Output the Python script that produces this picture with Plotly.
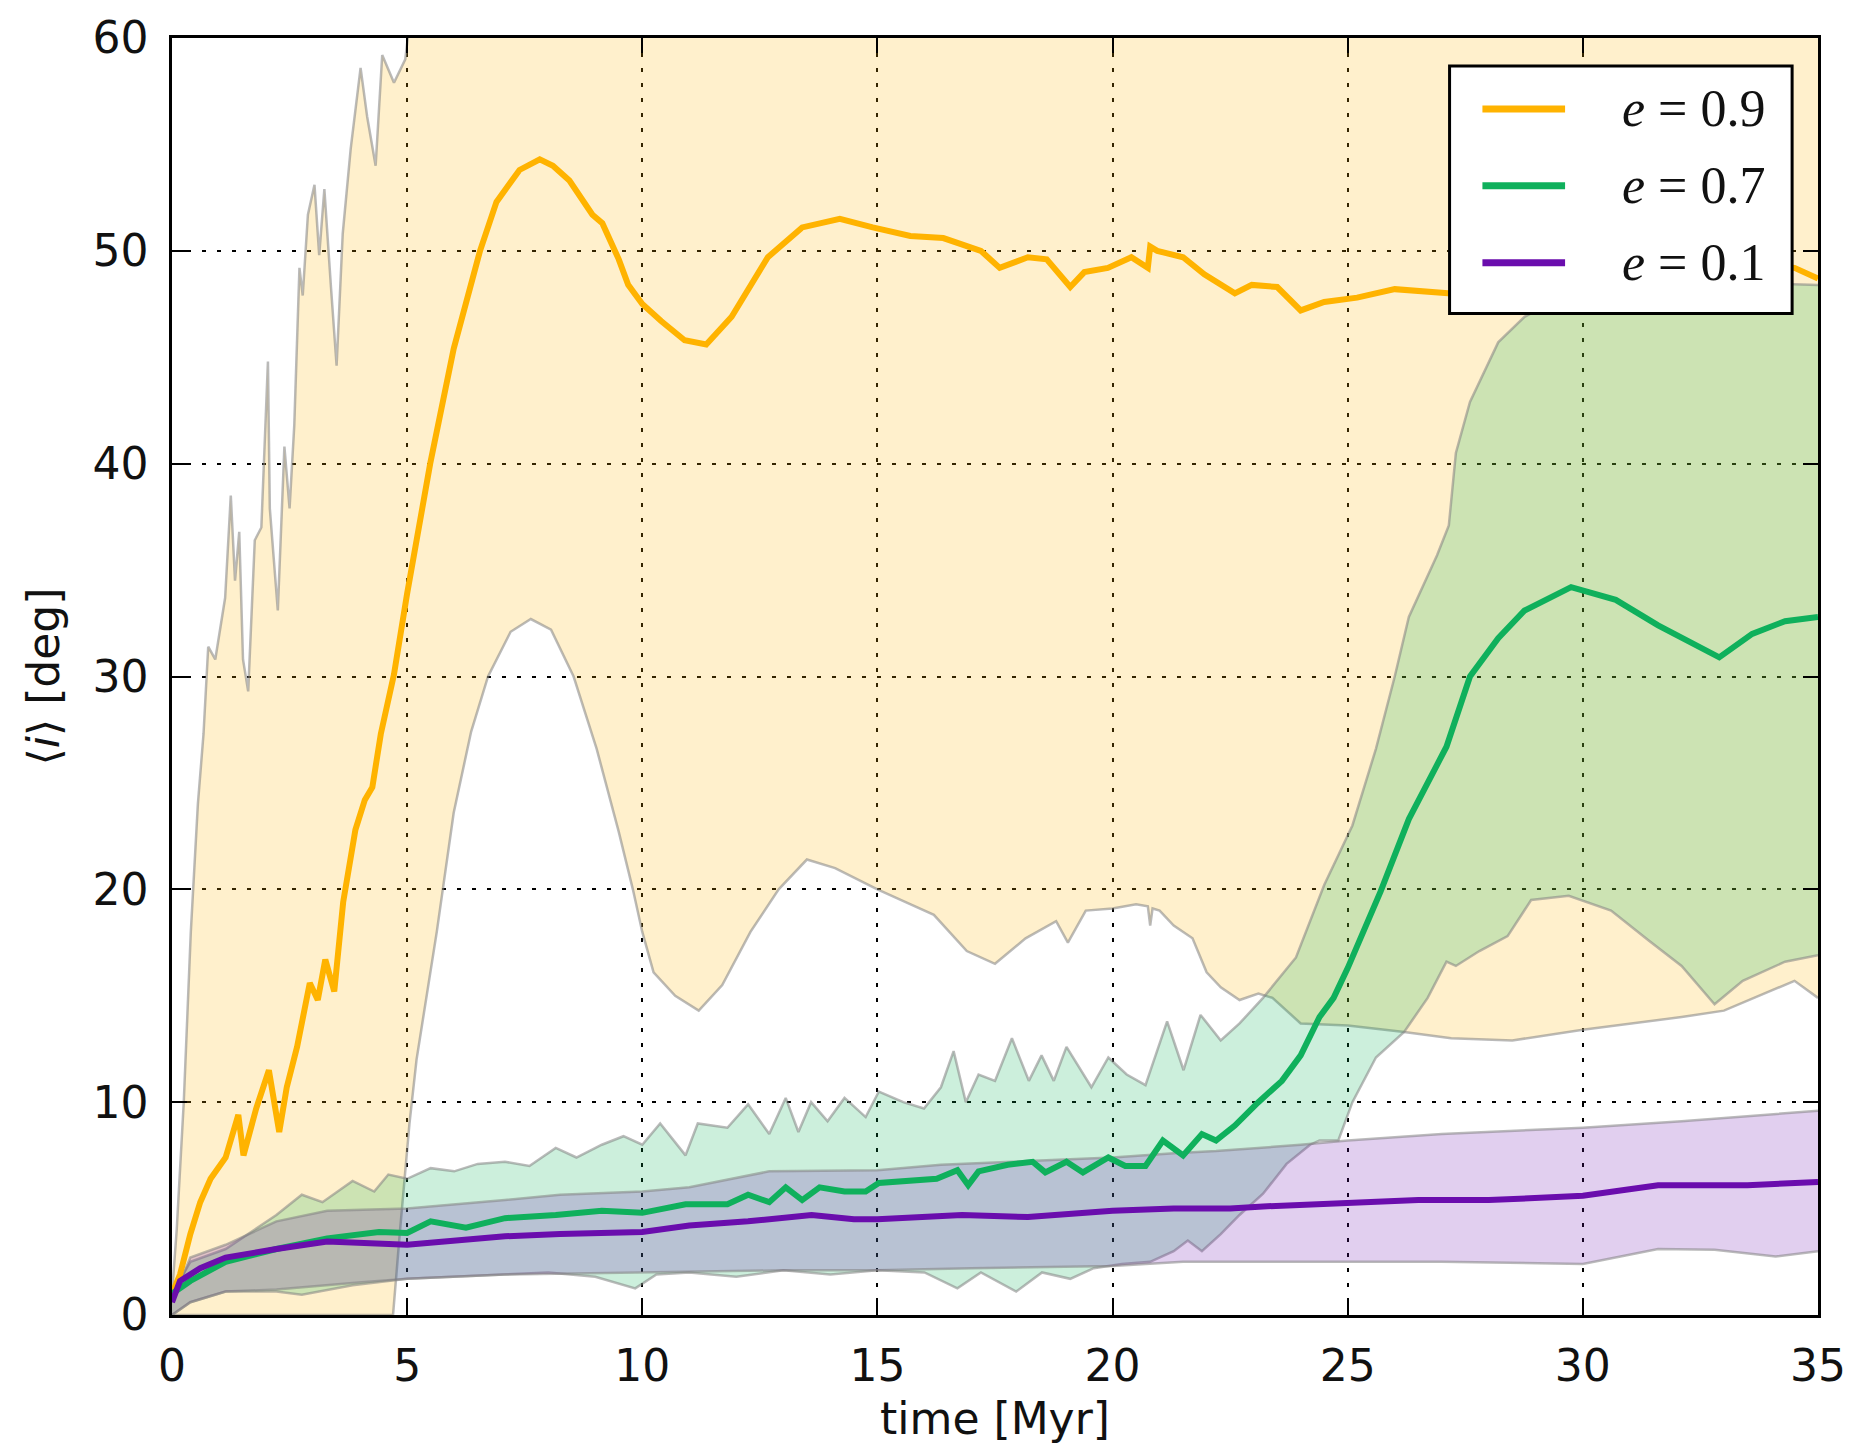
import plotly.graph_objects as go

# ---------------- data ----------------
# e = 0.9 mean inclination
t_o = [0, 0.17, 0.39, 0.6, 0.82, 1.14, 1.41, 1.52, 1.79, 2.06, 2.28, 2.44, 2.66, 2.93, 3.1, 3.26,
       3.45, 3.5, 3.64, 3.9, 4.1, 4.26, 4.44, 4.72, 5.0, 5.49, 5.99, 6.55, 6.9, 7.39, 7.82, 8.1,
       8.45, 8.94, 9.15, 9.5, 9.7, 10.0, 10.4, 10.9, 11.36, 11.9, 12.67, 13.4, 14.2, 14.9, 15.7,
       16.4, 17.2, 17.6, 18.2, 18.6, 19.1, 19.4, 19.9, 20.4, 20.75, 20.8, 20.95, 21.5, 21.95, 22.6,
       22.96, 23.5, 24.0, 24.5, 25.2, 26.0, 26.7, 27.2, 28.0, 29.0, 30.0, 31.0, 32.0, 33.0, 34.0,
       34.5, 35.0]
m_o = [1.0, 1.9, 3.8, 5.3, 6.4, 7.4, 9.4, 7.5, 9.7, 11.5, 8.6, 10.7, 12.6, 15.6, 14.8, 16.7,
       15.2, 16.5, 19.4, 22.8, 24.2, 24.8, 27.3, 30.1, 33.9, 40.0, 45.4, 50.0, 52.3, 53.8, 54.3, 54.0,
       53.3, 51.7, 51.3, 49.6, 48.4, 47.5, 46.7, 45.8, 45.6, 46.9, 49.7, 51.1, 51.5, 51.1, 50.7,
       50.6, 50.0, 49.2, 49.7, 49.6, 48.3, 49.0, 49.2, 49.7, 49.2, 50.2, 50.0, 49.7, 48.9, 48.0,
       48.4, 48.3, 47.2, 47.6, 47.8, 48.2, 48.1, 48.0, 48.2, 48.4, 48.6, 48.8, 49.0, 49.2, 49.3,
       49.2, 48.7]

# e = 0.9 band upper edge
t_ou = [0, 0.1, 0.25, 0.4, 0.55, 0.67, 0.77, 0.92, 1.13, 1.25, 1.34, 1.43, 1.51, 1.62, 1.76, 1.9,
        2.04, 2.08, 2.25, 2.39, 2.5, 2.6, 2.71, 2.78, 2.89, 3.03, 3.13, 3.24, 3.38, 3.5, 3.63, 3.8,
        4.01, 4.15, 4.33, 4.47, 4.72, 4.96, 5.04, 5.2, 6.0, 35.0]
u_o = [1.0, 4.0, 10.0, 18.0, 24.0, 27.3, 31.4, 30.8, 33.7, 38.5, 34.5, 36.8, 30.8, 29.3, 36.4, 37.0,
       44.8, 37.9, 33.1, 40.8, 37.9, 41.8, 49.2, 47.9, 51.7, 53.1, 49.8, 52.9, 48.3, 44.6, 50.8, 54.8,
       58.6, 56.3, 54.0, 59.2, 57.9, 59.0, 60.5, 64.0, 66.0, 66.0]

# e = 0.9 band lower edge
t_ol = [0, 4.7, 4.85, 5.05, 5.2, 5.63, 5.99, 6.36, 6.72, 7.2, 7.63, 8.06, 8.54, 9.03, 9.5, 9.8,
        10.0, 10.24, 10.7, 11.2, 11.7, 12.3, 12.9, 13.5, 14.1, 15.0, 15.6, 16.2, 16.9, 17.5, 18.15,
        18.8, 19.05, 19.43, 20.0, 20.5, 20.75, 20.8, 20.85, 21.0, 21.3, 21.7, 22.0, 22.3, 22.7,
        23.1, 23.4, 24.0, 25.0, 26.2, 27.2, 28.5, 30.0, 32.1, 33.0, 34.5, 35.0]
l_o = [0, 0, 4.0, 9.0, 12.0, 18.0, 23.6, 27.4, 30.0, 32.1, 32.7, 32.2, 30.0, 26.6, 22.7, 20.0,
       18.0, 16.1, 15.0, 14.3, 15.5, 18.0, 20.0, 21.4, 21.0, 20.0, 19.4, 18.8, 17.1, 16.5, 17.7,
       18.5, 17.5, 19.0, 19.1, 19.3, 19.2, 18.3, 19.1, 19.0, 18.3, 17.7, 16.1, 15.4, 14.8,
       15.1, 14.9, 13.7, 13.6, 13.3, 13.0, 12.9, 13.4, 14.0, 14.3, 15.7, 14.9]

# e = 0.7 mean inclination
t_g = [0, 0.39, 1.14, 2.22, 3.3, 4.4, 5.0, 5.5, 6.25, 7.08, 8.16, 9.14, 10.0, 10.92, 11.81, 12.25,
       12.7, 13.05, 13.4, 13.77, 14.3, 14.75, 15.03, 15.8, 16.26, 16.7, 16.93, 17.15, 17.77, 18.3,
       18.57, 19.02, 19.37, 19.91, 20.27, 20.7, 21.07, 21.5, 21.9, 22.2, 22.6, 23.1, 23.6, 24.0,
       24.4, 24.7, 25.0, 25.7, 26.3, 27.1, 27.6, 28.2, 28.76, 29.75, 30.7, 31.6, 32.9, 33.6, 34.3, 35.0]
m_g = [1.0, 1.6, 2.5, 3.1, 3.6, 3.9, 3.85, 4.4, 4.1, 4.55, 4.7, 4.9, 4.8, 5.2, 5.2, 5.65,
       5.3, 6.0, 5.4, 6.0, 5.8, 5.8, 6.2, 6.3, 6.4, 6.8, 6.1, 6.75, 7.06, 7.2,
       6.7, 7.2, 6.7, 7.4, 7.0, 7.0, 8.2, 7.5, 8.5, 8.2, 8.9, 10.0, 11.0, 12.2,
       14.0, 14.9, 16.3, 19.9, 23.3, 26.7, 30.0, 31.8, 33.1, 34.2, 33.6, 32.4, 30.9, 32.0, 32.6, 32.8]

# e = 0.7 band upper edge
t_gu = [0, 0.39, 1.14, 2.22, 2.76, 3.2, 3.84, 4.3, 4.6, 5.0, 5.5, 6.0, 6.5, 7.08, 7.6, 8.16, 8.6,
        9.14, 9.6, 10.0, 10.38, 10.92, 11.18, 11.81, 12.25, 12.7, 13.05, 13.32, 13.59, 13.94, 14.3,
        14.75, 15.03, 15.55, 15.99, 16.35, 16.62, 16.88, 17.15, 17.5, 17.86, 18.22, 18.49, 18.75,
        19.02, 19.55, 19.91, 20.3, 20.7, 21.16, 21.51, 21.87, 22.3, 22.7, 23.2, 23.9, 24.5, 25.1,
        25.6, 26.0, 26.3, 26.9, 27.15, 27.3, 27.6, 28.2, 28.76, 29.5, 30.5, 32.0, 33.5, 35.0]
u_g = [1.0, 2.5, 3.1, 4.7, 5.65, 5.3, 6.3, 5.8, 6.6, 6.4, 6.9, 6.75, 7.1, 7.2, 7.0, 7.85, 7.4,
       8.0, 8.4, 8.0, 9.0, 7.5, 9.0, 8.8, 9.9, 8.5, 10.2, 8.6, 10.0, 9.1, 10.2,
       9.3, 10.5, 10.0, 9.7, 10.7, 12.4, 10.0, 11.3, 11.0, 13.0, 11.0, 12.2, 11.0,
       12.6, 10.7, 12.1, 11.3, 10.8, 13.8, 11.5, 14.1, 12.9, 13.7, 14.9, 16.8, 20.2, 23.0,
       26.6, 30.0, 32.8, 35.7, 37.1, 40.5, 42.9, 45.7, 46.9, 47.8, 48.3, 48.5, 48.5, 48.4]

# e = 0.7 band lower edge
t_gl = [0, 0.39, 1.14, 2.22, 2.76, 3.84, 5.0, 6.0, 7.08, 8.0, 9.0, 9.85, 10.3, 11.0, 12.0, 13.0,
        14.0, 15.0, 16.0, 16.7, 17.2, 17.95, 18.5, 19.1, 19.6, 20.2, 20.8, 21.3, 21.6, 21.9, 22.3,
        22.7, 23.2, 23.7, 24.2, 24.4, 24.8, 25.1, 25.6, 26.2, 26.7, 27.1, 27.3, 27.8, 28.4, 28.9,
        29.7, 30.6, 31.4, 32.1, 32.8, 33.4, 34.3, 35.0]
l_g = [0.0, 0.6, 1.1, 1.1, 0.95, 1.4, 1.7, 1.8, 1.9, 2.0, 1.8, 1.25, 1.9, 2.0, 1.8, 2.1,
       1.9, 2.1, 2.0, 1.25, 2.0, 1.1, 2.0, 1.7, 2.2, 2.4, 2.5, 3.0, 3.5, 3.0, 3.8,
       4.7, 5.7, 7.1, 8.0, 8.2, 8.2, 10.0, 12.1, 13.3, 14.9, 16.6, 16.4, 17.1, 17.8, 19.5,
       19.7, 19.0, 17.6, 16.4, 14.6, 15.7, 16.6, 16.9]

# e = 0.1 mean inclination
t_p = [0, 0.17, 0.6, 1.14, 2.22, 3.3, 5.0, 7.08, 8.25, 10.0, 11.0, 12.25, 13.6, 14.5, 15.0, 16.8,
       18.2, 19.5, 20.0, 21.3, 22.5, 23.2, 25.0, 26.5, 28.0, 30.0, 31.6, 33.5, 35.0]
m_p = [0.6, 1.6, 2.2, 2.7, 3.1, 3.45, 3.3, 3.7, 3.8, 3.9, 4.2, 4.4, 4.7, 4.5, 4.5, 4.7,
       4.6, 4.8, 4.9, 5.0, 5.0, 5.1, 5.26, 5.4, 5.4, 5.6, 6.1, 6.1, 6.25]

# e = 0.1 band edges
t_pu = [0, 0.39, 1.14, 2.22, 3.3, 5.0, 7.08, 8.25, 10.0, 11.0, 12.7, 15.0, 16.35, 18.0, 20.0,
        21.3, 22.2, 24.0, 25.0, 27.0, 30.0, 32.1, 35.0]
u_p = [0.6, 2.7, 3.3, 4.4, 4.9, 5.0, 5.4, 5.65, 5.8, 6.0, 6.75, 6.8, 7.06, 7.2, 7.4,
       7.6, 7.7, 8.0, 8.2, 8.5, 8.8, 9.1, 9.6]
t_pl = [0, 0.39, 1.14, 2.22, 3.84, 5.0, 7.08, 10.0, 13.0, 15.0, 17.0, 20.0, 21.5, 24.0, 27.0,
        30.0, 31.6, 32.8, 34.1, 35.0]
l_p = [0.0, 0.6, 1.1, 1.2, 1.5, 1.7, 1.9, 2.0, 2.1, 2.1, 2.2, 2.3, 2.5, 2.5, 2.5,
       2.4, 3.1, 3.06, 2.75, 3.0]

x_ticks = [0, 5, 10, 15, 20, 25, 30, 35]
y_ticks = [0, 10, 20, 30, 40, 50, 60]
labels = ["<i>e</i> = 0.9", "<i>e</i> = 0.7", "<i>e</i> = 0.1"]

# ---------------- styling ----------------
C_O, C_G, C_P = "#FFB300", "#0FB05C", "#6A0DAD"
F_O, F_G, F_P = "rgba(255,179,0,0.2)", "rgba(0,176,80,0.2)", "rgba(106,13,173,0.2)"
EDGE = dict(color="rgba(130,130,130,0.55)", width=2.5)

W, H = 1858, 1449
L, R, T, B = 172, 1825, 36, 1315

fig = go.Figure()

def band(t_up, up, t_lo, lo, fillcol):
    fig.add_trace(go.Scatter(x=list(t_up) + list(t_lo)[::-1], y=list(up) + list(lo)[::-1],
                             fill="toself", fillcolor=fillcol, mode="lines",
                             line=dict(width=0, color="rgba(0,0,0,0)"),
                             hoverinfo="skip", showlegend=False))
    fig.add_trace(go.Scatter(x=t_up, y=up, mode="lines", line=EDGE, showlegend=False, hoverinfo="skip"))
    fig.add_trace(go.Scatter(x=t_lo, y=lo, mode="lines", line=EDGE, showlegend=False, hoverinfo="skip"))

band(t_ou, u_o, t_ol, l_o, F_O)
band(t_gu, u_g, t_gl, l_g, F_G)
band(t_pu, u_p, t_pl, l_p, F_P)

for tt, mm, col, name in [(t_o, m_o, C_O, labels[0]), (t_g, m_g, C_G, labels[1]), (t_p, m_p, C_P, labels[2])]:
    fig.add_trace(go.Scatter(x=tt, y=mm, mode="lines", name=name,
                             line=dict(color=col, width=6), showlegend=False))

axis_common = dict(showline=True, linecolor="black", linewidth=2.5, mirror="ticks",
                   ticks="inside", ticklen=15, tickwidth=2, tickcolor="black",
                   showgrid=True, gridcolor="black", gridwidth=1.6, griddash="4px,11px",
                   zeroline=False, tickfont=dict(family="DejaVu Sans", size=44, color="#111"))

fig.update_xaxes(range=[0, 35], tickvals=x_ticks, ticktext=[str(v) for v in x_ticks],
                 title=dict(text="time [Myr]", font=dict(family="DejaVu Sans", size=44, color="#111"),
                            standoff=14),
                 ticklabelstandoff=10, **axis_common)
fig.update_yaxes(range=[0, 60], tickvals=y_ticks, ticktext=[str(v) for v in y_ticks],
                 title=dict(text="⟨<i>i</i>⟩ [deg]", font=dict(family="DejaVu Sans", size=44, color="#111"),
                            standoff=20),
                 ticklabelstandoff=12, **axis_common)

# legend box drawn in pixel-derived paper coordinates
def px(x):
    return (x - L) / (R - L)

def py(y):
    return (B - y) / (B - T)

shapes = [dict(type="rect", xref="paper", yref="paper", x0=px(1455), x1=px(1799), y0=py(312), y1=py(64),
               fillcolor="white", line=dict(color="black", width=3), layer="above")]
annots = []
for i, (col, lab) in enumerate(zip([C_O, C_G, C_P], labels)):
    yy = 107 + 77 * i
    shapes.append(dict(type="line", xref="paper", yref="paper", x0=px(1488), x1=px(1571),
                       y0=py(yy), y1=py(yy), line=dict(color=col, width=7), layer="above"))
    annots.append(dict(xref="paper", yref="paper", x=px(1626), y=py(yy), xanchor="left", yanchor="middle",
                       text=lab, showarrow=False,
                       font=dict(family="Liberation Serif", size=52, color="#111")))

fig.update_layout(width=W, height=H, margin=dict(l=L, r=W - R, t=T, b=H - B),
                  plot_bgcolor="white", paper_bgcolor="white", shapes=shapes, annotations=annots,
                  showlegend=False)

fig.write_html("out.html")
